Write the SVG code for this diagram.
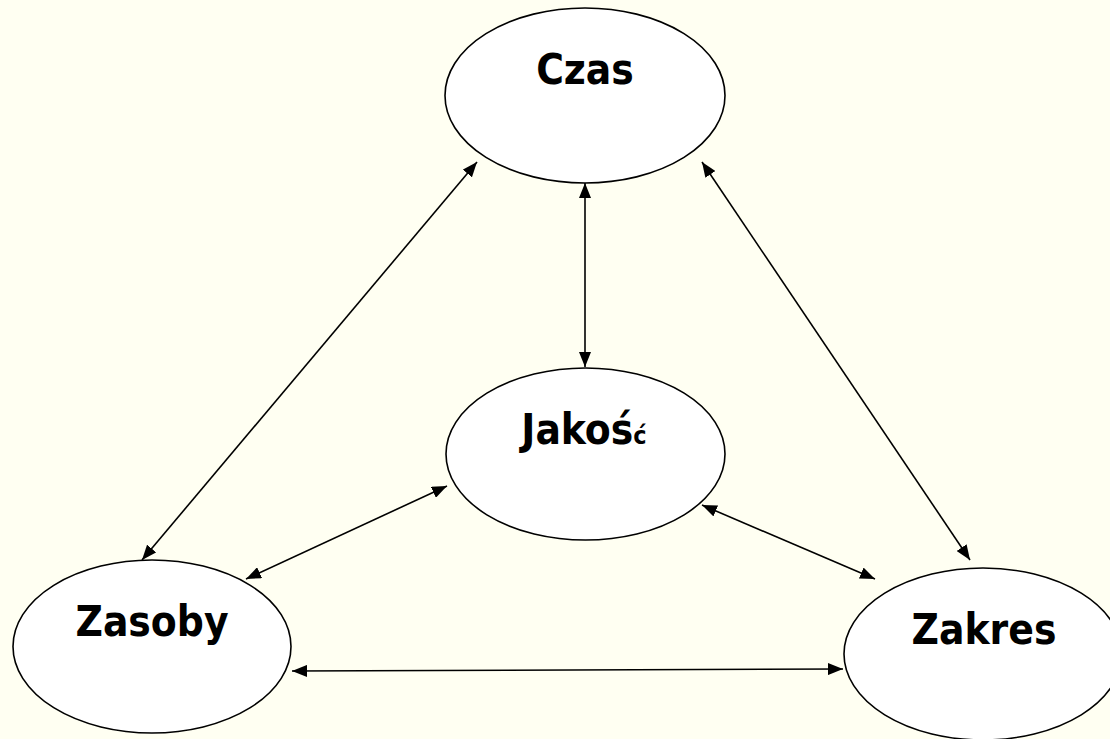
<svg xmlns="http://www.w3.org/2000/svg" width="1110" height="739" viewBox="0 0 1110 739">
  <style>
    .node ellipse { fill: #ffffff; stroke: #000000; stroke-width: 1.6; }
    .label { font-family: "DejaVu Sans Condensed", "DejaVu Sans", sans-serif; font-stretch: condensed; font-weight: bold; font-size: 42px; fill: #000000; text-anchor: middle; }
    .small { font-size: 25px; }
    .edge { stroke: #000000; stroke-width: 1.6; fill: none; marker-start: url(#head); marker-end: url(#head); }
  </style>
  <defs>
    <marker id="head" viewBox="0 0 15 12" refX="15" refY="6" markerWidth="15" markerHeight="12" markerUnits="userSpaceOnUse" orient="auto-start-reverse">
      <path d="M0,0 L15,6 L0,12 z" fill="#000000"/>
    </marker>
  </defs>
  <rect width="1110" height="739" fill="#fffff2"/>

  <g id="node-czas" class="node">
    <ellipse cx="585" cy="95.5" rx="140" ry="87.5"/>
    <text class="label" x="585" y="84">Czas</text>
  </g>

  <g id="node-jakosc" class="node">
    <ellipse cx="585.5" cy="454" rx="139.5" ry="86"/>
    <text class="label" x="584" y="444">Jakoś<tspan class="small">ć</tspan></text>
  </g>

  <g id="node-zasoby" class="node">
    <ellipse cx="152" cy="646.5" rx="139" ry="86.5"/>
    <text class="label" x="152" y="636">Zasoby</text>
  </g>

  <g id="node-zakres" class="node">
    <ellipse cx="983" cy="654" rx="139" ry="86"/>
    <text class="label" x="984" y="644">Zakres</text>
  </g>

  <g id="connectors">
    <line class="edge" x1="477" y1="162" x2="142" y2="560"/>
    <line class="edge" x1="585" y1="183" x2="585" y2="367"/>
    <line class="edge" x1="702" y1="162" x2="970" y2="560"/>
    <line class="edge" x1="447" y1="486" x2="246" y2="579"/>
    <line class="edge" x1="702" y1="505" x2="875" y2="579"/>
    <line class="edge" x1="292" y1="671" x2="843" y2="669"/>
  </g>
</svg>
